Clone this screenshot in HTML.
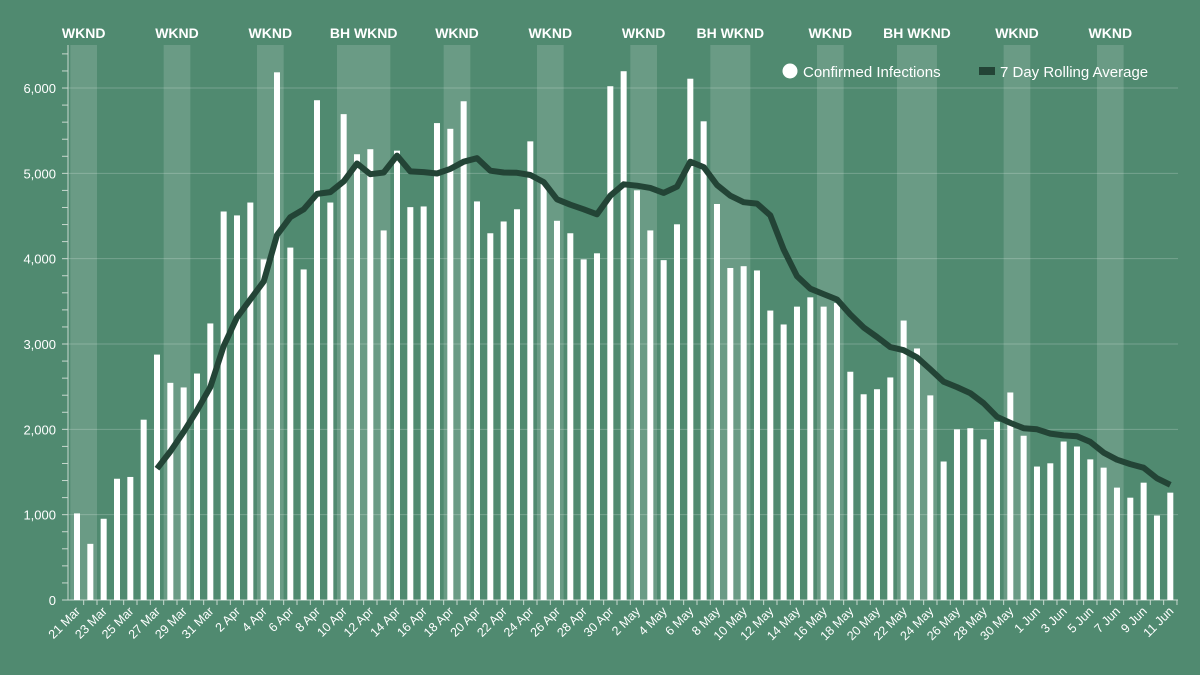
<!DOCTYPE html>
<html><head><meta charset="utf-8"><style>
html,body{margin:0;padding:0;background:#508a70;}
svg{display:block;font-family:"Liberation Sans",sans-serif;}
</style></head><body>
<svg id="chart" width="1200" height="675"></svg>
<script>
const startDay = 0; // 21 Mar
const cases = [1015,658,952,1421,1442,2113,2876,2545,2491,2654,3241,4553,4507,4658,3992,6184,4130,3874,5857,4658,5694,5224,5283,4331,5266,4604,4612,5589,5522,5845,4671,4298,4436,4579,5375,4880,4444,4298,3992,4063,6021,6197,4801,4331,3983,4403,6109,5610,4641,3891,3912,3862,3392,3229,3438,3547,3438,3480,2675,2411,2470,2608,3275,2948,2398,1623,2000,2013,1883,2088,2432,1925,1564,1602,1857,1799,1648,1551,1317,1199,1375,990,1258];
const rolling = [null,null,null,null,null,null,1539,1740,1971,2222,2495,2977,3312,3522,3732,4277,4486,4579,4759,4780,4906,5115,4990,5010,5208,5023,5015,4998,5052,5136,5178,5031,5010,5006,4981,4897,4696,4633,4579,4520,4738,4872,4855,4830,4771,4843,5136,5073,4864,4738,4662,4646,4507,4109,3795,3648,3585,3522,3346,3195,3082,2964,2927,2843,2704,2558,2495,2424,2306,2147,2075,2013,2000,1950,1929,1920,1853,1727,1644,1593,1551,1426,1350];
const weekendStart = [0,7,14,20,28,35,42,48,56,62,70,77];
const weekendEnd   = [1,8,15,23,29,36,43,50,57,64,71,78];
const weekendLabels = ["WKND","WKND","WKND","BH WKND","WKND","WKND","WKND","BH WKND","WKND","BH WKND","WKND","WKND"];
const yTicks = [0,1000,2000,3000,4000,5000,6000];
const months = ["Mar","Apr","May","Jun"];
const monthLen = [31,30,31,30];

const NS="http://www.w3.org/2000/svg";
const svg=document.getElementById('chart');
function el(t,a,p){const e=document.createElementNS(NS,t);for(const k in a)e.setAttribute(k,a[k]);(p||svg).appendChild(e);return e;}
const x0=77, dx=13.333, y0=600, k=85.33/1000;
const xs=i=>x0+dx*i;
const ys=v=>y0-v*k;
function dateLabel(i){let d=21+i,m=0;while(d>monthLen[m]){d-=monthLen[m];m++;}return d+" "+months[m];}

// weekend bands
weekendStart.forEach((s,j)=>{
  const a=xs(s)-dx/2, b=xs(weekendEnd[j])+dx/2;
  const r=el('rect',{x:a,y:45,width:b-a,height:y0-45,fill:'rgba(255,255,255,0.15)'});
  
  
  const t=el('text',{x:(a+b)/2,y:38,'text-anchor':'middle',fill:'#fff','font-size':14,'font-weight':'bold'});
  t.textContent=weekendLabels[j];
  
  
});
// gridlines + y labels
yTicks.forEach(v=>{
  const g=el('line',{x1:68,x2:1178,y1:ys(v),y2:ys(v),stroke:'rgba(255,255,255,0.22)','stroke-width':1});
  
  
  const t=el('text',{x:56,y:ys(v)+5,'text-anchor':'end',fill:'#fff','font-size':13});
  t.textContent=v.toLocaleString('en-US');
  
  
});
// y axis and minor ticks
const ya=el('line',{x1:68,x2:68,y1:45,y2:y0,stroke:'#c8d8cf','stroke-width':1});


for(let v=0;v<=6400;v+=200){el('line',{x1:62,x2:68,y1:ys(v),y2:ys(v),stroke:'#c8d8cf','stroke-width':1});}
// x axis
const xa=el('line',{x1:68,x2:1178,y1:y0,y2:y0,stroke:'#c8d8cf','stroke-width':1});


// bars
cases.forEach((v,i)=>{
  const b=el('rect',{x:xs(i)-3,y:ys(v),width:6,height:v*k,fill:'#fff'});
  
  
  el('line',{x1:xs(i)+dx/2,x2:xs(i)+dx/2,y1:y0,y2:y0+5,stroke:'#c8d8cf','stroke-width':1});
  if(i%2===0){
    const tx=xs(i)+4, ty=y0+12;
    const t=el('text',{x:tx,y:ty,'text-anchor':'end',fill:'#fff','font-size':12.5,transform:`rotate(-45 ${tx} ${ty})`});
    t.textContent=dateLabel(i);
    
    
  }
});
// rolling line
let d='';
rolling.forEach((v,i)=>{if(v==null)return;d+=(d?'L':'M')+xs(i).toFixed(1)+' '+ys(v).toFixed(1);});
const ln=el('path',{d:d,fill:'none',stroke:'#234436','stroke-width':6,'stroke-linejoin':'round'});


// legend
const lg=el('g',{});


const c=el('circle',{cx:790,cy:71,r:7.5,fill:'#fff'},lg);


const t1=el('text',{x:803,y:77,fill:'#fff','font-size':15},lg);t1.textContent='Confirmed Infections';


const r2=el('rect',{x:979,y:67,width:16,height:8,fill:'#234436'},lg);


const t2=el('text',{x:1000,y:77,fill:'#fff','font-size':15},lg);t2.textContent='7 Day Rolling Average';


</script>
</body></html>
